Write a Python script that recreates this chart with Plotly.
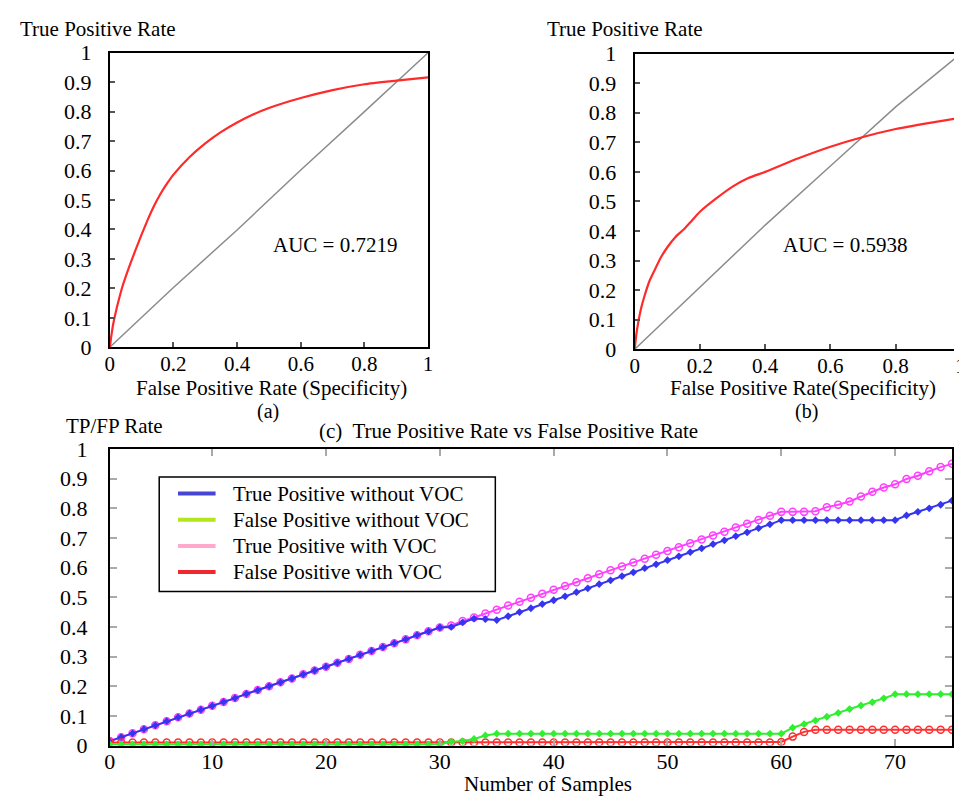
import plotly.graph_objects as go

# ---------------- data ----------------
# (a) ROC curve
fpr_a = [0, 0.005, 0.01, 0.02, 0.03, 0.04, 0.06, 0.08, 0.10, 0.12, 0.14, 0.16, 0.18, 0.2,
         0.25, 0.3, 0.35, 0.4, 0.45, 0.5, 0.6, 0.7, 0.8, 0.9, 1.0]
tpr_a = [0, 0.04, 0.075, 0.125, 0.168, 0.207, 0.27, 0.328, 0.383, 0.435, 0.482, 0.522, 0.556,
         0.586, 0.645, 0.692, 0.731, 0.763, 0.79, 0.812, 0.846, 0.873, 0.893, 0.905, 0.916]
diag_a_x = [0, 0.2, 0.4, 0.6, 0.8, 1.0]
diag_a_y = [0, 0.203, 0.398, 0.602, 0.800, 1.0]
auc_a = "AUC = 0.7219"

# (b) ROC curve
fpr_b = [0, 0.005, 0.01, 0.02, 0.03, 0.045, 0.06, 0.08, 0.10, 0.125, 0.15, 0.175, 0.2, 0.25,
         0.3, 0.35, 0.4, 0.5, 0.6, 0.7, 0.8, 0.9, 1.0]
tpr_b = [0, 0.05, 0.085, 0.14, 0.18, 0.23, 0.265, 0.31, 0.345, 0.38, 0.405, 0.435, 0.465, 0.51,
         0.55, 0.58, 0.60, 0.645, 0.685, 0.718, 0.745, 0.765, 0.783]
diag_b_x = [0, 0.2, 0.4, 0.6, 0.8, 1.0]
diag_b_y = [0, 0.21, 0.42, 0.62, 0.82, 1.0]
auc_b = "AUC = 0.5938"

roc_ticks = [0, 0.1, 0.2, 0.3, 0.4, 0.5, 0.6, 0.7, 0.8, 0.9, 1.0]
roc_tick_text = ["0", "0.1", "0.2", "0.3", "0.4", "0.5", "0.6", "0.7", "0.8", "0.9", "1"]
fpr_ticks = [0, 0.2, 0.4, 0.6, 0.8, 1.0]
fpr_tick_text = ["0", "0.2", "0.4", "0.6", "0.8", "1"]

# (c) rates vs number of samples
samples = list(range(1, 76))
tp_without = [0.015, 0.028, 0.041, 0.055, 0.068, 0.082, 0.095, 0.108, 0.121, 0.134,
              0.147, 0.160, 0.174, 0.187, 0.200, 0.213, 0.226, 0.240, 0.253, 0.266,
              0.279, 0.292, 0.306, 0.319, 0.332, 0.345, 0.358, 0.372, 0.385, 0.398,
              0.400, 0.415, 0.428, 0.426, 0.423, 0.436, 0.450, 0.463, 0.477, 0.490,
              0.503, 0.517, 0.530, 0.544, 0.557, 0.571, 0.584, 0.598, 0.611, 0.625,
              0.638, 0.652, 0.665, 0.679, 0.692, 0.706, 0.719, 0.733, 0.746, 0.760,
              0.760, 0.760, 0.760, 0.760, 0.760, 0.760, 0.760, 0.760, 0.760, 0.760,
              0.776, 0.788, 0.800, 0.812, 0.826]
fp_without = [0.004, 0.004, 0.004, 0.004, 0.004, 0.004, 0.004, 0.004, 0.004, 0.004,
              0.004, 0.004, 0.004, 0.004, 0.004, 0.004, 0.004, 0.004, 0.004, 0.004,
              0.004, 0.004, 0.004, 0.004, 0.004, 0.004, 0.004, 0.004, 0.004, 0.004,
              0.013, 0.015, 0.022, 0.034, 0.040, 0.040, 0.040, 0.040, 0.040, 0.040,
              0.040, 0.040, 0.040, 0.040, 0.040, 0.040, 0.040, 0.040, 0.040, 0.040,
              0.040, 0.040, 0.040, 0.040, 0.040, 0.040, 0.040, 0.040, 0.040, 0.040,
              0.060, 0.072, 0.084, 0.097, 0.110, 0.123, 0.135, 0.146, 0.159, 0.173,
              0.173, 0.173, 0.173, 0.173, 0.173]
tp_with = [0.015, 0.028, 0.041, 0.055, 0.068, 0.082, 0.095, 0.108, 0.121, 0.134,
           0.147, 0.160, 0.174, 0.187, 0.200, 0.213, 0.226, 0.240, 0.253, 0.266,
           0.279, 0.292, 0.306, 0.319, 0.332, 0.345, 0.358, 0.372, 0.385, 0.398,
           0.405, 0.420, 0.432, 0.445, 0.458, 0.472, 0.485, 0.498, 0.512, 0.525,
           0.538, 0.551, 0.564, 0.578, 0.591, 0.604, 0.617, 0.630, 0.643, 0.656,
           0.669, 0.682, 0.695, 0.708, 0.721, 0.735, 0.748, 0.761, 0.775, 0.788,
           0.788, 0.788, 0.790, 0.804, 0.812, 0.823, 0.840, 0.856, 0.870, 0.881,
           0.899, 0.910, 0.925, 0.939, 0.950]
fp_with = [0.010, 0.010, 0.010, 0.010, 0.010, 0.010, 0.010, 0.010, 0.010, 0.010,
           0.010, 0.010, 0.010, 0.010, 0.010, 0.010, 0.010, 0.010, 0.010, 0.010,
           0.010, 0.010, 0.010, 0.010, 0.010, 0.010, 0.010, 0.010, 0.010, 0.010,
           0.010, 0.010, 0.010, 0.010, 0.010, 0.010, 0.010, 0.010, 0.010, 0.010,
           0.010, 0.010, 0.010, 0.010, 0.010, 0.010, 0.010, 0.010, 0.010, 0.010,
           0.010, 0.010, 0.010, 0.010, 0.010, 0.010, 0.010, 0.010, 0.010, 0.012,
           0.030, 0.046, 0.053, 0.053, 0.053, 0.053, 0.053, 0.053, 0.053, 0.053,
           0.053, 0.053, 0.053, 0.053, 0.053]
sample_ticks = [1, 10, 20, 30, 40, 50, 60, 70]
sample_tick_text = ["0", "10", "20", "30", "40", "50", "60", "70"]
legend_names = ["True Positive without VOC", "False Positive without VOC",
                "True Positive with VOC", "False Positive with VOC"]
legend_colors = ["#4646d2", "#b4e61e", "#ffaacc", "#f0282d"]

# ---------------- layout helpers ----------------
W, H = 959, 806
FONT = "Liberation Serif"


def px(x):
    return x / W


def py(y):
    return 1 - y / H


fig = go.Figure()

# (a)
fig.add_trace(go.Scatter(x=diag_a_x, y=diag_a_y, mode="lines", line=dict(color="#8c8c8c", width=1.5),
                         xaxis="x", yaxis="y", showlegend=False))
fig.add_trace(go.Scatter(x=fpr_a, y=tpr_a, mode="lines",
                         line=dict(color="#ff2a2a", width=2.2, shape="spline", smoothing=0.5),
                         xaxis="x", yaxis="y", showlegend=False))
# (b)
fig.add_trace(go.Scatter(x=diag_b_x, y=diag_b_y, mode="lines", line=dict(color="#8c8c8c", width=1.5),
                         xaxis="x2", yaxis="y2", showlegend=False))
fig.add_trace(go.Scatter(x=fpr_b, y=tpr_b, mode="lines",
                         line=dict(color="#ff2a2a", width=2.2, shape="spline", smoothing=0.5),
                         xaxis="x2", yaxis="y2", showlegend=False))

# (c)
fig.add_trace(go.Scatter(x=samples, y=tp_with, mode="lines+markers", name=legend_names[2],
                         line=dict(color="#ff40ff", width=2),
                         marker=dict(symbol="circle-open", size=7, color="#ff40ff", line=dict(width=1.5)),
                         xaxis="x3", yaxis="y3", showlegend=False))
fig.add_trace(go.Scatter(x=samples, y=tp_without, mode="lines+markers", name=legend_names[0],
                         line=dict(color="#3535f0", width=2),
                         marker=dict(symbol="diamond", size=6, color="#3535f0"),
                         xaxis="x3", yaxis="y3", showlegend=False))
fig.add_trace(go.Scatter(x=samples, y=fp_with, mode="lines+markers", name=legend_names[3],
                         line=dict(color="#ff3030", width=2),
                         marker=dict(symbol="circle-open", size=7, color="#ff3030", line=dict(width=1.5)),
                         xaxis="x3", yaxis="y3", showlegend=False))
fig.add_trace(go.Scatter(x=samples, y=fp_without, mode="lines+markers", name=legend_names[1],
                         line=dict(color="#30ee30", width=2),
                         marker=dict(symbol="diamond", size=6, color="#30ee30"),
                         xaxis="x3", yaxis="y3", showlegend=False))

axis_common = dict(showgrid=False, zeroline=False, showline=True, linecolor="black", linewidth=2,
                   ticks="inside", ticklen=5, tickwidth=2, tickcolor="#555555",
                   tickfont=dict(family=FONT, size=22, color="black"))
top_x = {**axis_common, "tickfont": dict(family=FONT, size=21, color="black")}
grey_ticks = {**axis_common, "tickcolor": "#aaaaaa", "ticklen": 7}

fig.update_layout(
    width=W, height=H, margin=dict(l=0, r=0, t=0, b=0),
    paper_bgcolor="white", plot_bgcolor="white",
    font=dict(family=FONT, size=21, color="black"),
    showlegend=False,
    xaxis=dict(domain=[px(105), px(427)], range=[0, 1], anchor="y", mirror=True,
               tickvals=fpr_ticks, ticktext=fpr_tick_text, ticklabelstandoff=-3, **top_x),
    yaxis=dict(domain=[py(346), py(42)], range=[0, 1], anchor="x", mirror=True,
               tickvals=roc_ticks, ticktext=roc_tick_text, ticklabelstandoff=12, **axis_common),
    xaxis2=dict(domain=[px(636), 1.0], range=[0, (959 - 636) / 330], anchor="y2", mirror=True,
                tickvals=fpr_ticks, ticktext=fpr_tick_text, ticklabelstandoff=-3, **top_x),
    yaxis2=dict(domain=[py(348), py(43)], range=[0, 1], anchor="x2", mirror=False,
                tickvals=roc_ticks, ticktext=roc_tick_text, ticklabelstandoff=12, **axis_common),
    xaxis3=dict(domain=[px(105), px(957)], range=[1, 75], anchor="y3", mirror="ticks",
                tickvals=sample_ticks, ticktext=sample_tick_text, ticklabelstandoff=-5, **grey_ticks),
    yaxis3=dict(domain=[py(757), py(451)], range=[0, 1], anchor="x3", mirror="ticks",
                tickvals=roc_ticks, ticktext=roc_tick_text, ticklabelstandoff=16, **grey_ticks),
)

# legend (box, sample lines, labels)
fig.add_shape(type="rect", xref="paper", yref="paper", x0=px(155), x1=px(495), y0=py(598), y1=py(480),
              line=dict(color="black", width=1.5), fillcolor="rgba(0,0,0,0)")
legend_rows = [497, 524, 551, 578]
ann = []
for name, col, ry in zip(legend_names, legend_colors, legend_rows):
    fig.add_shape(type="line", xref="paper", yref="paper", x0=px(174), x1=px(212), y0=py(ry), y1=py(ry),
                  line=dict(color=col, width=4))
    ann.append(dict(x=px(228), y=py(ry), xref="paper", yref="paper", text=name, showarrow=False,
                    xanchor="left", yanchor="middle", font=dict(family=FONT, size=21, color="black")))


def text(x, y, s, size=21, xanchor="center"):
    ann.append(dict(x=px(x), y=py(y), xref="paper", yref="paper", text=s, showarrow=False,
                    xanchor=xanchor, yanchor="middle", font=dict(family=FONT, size=size, color="black")))


text(12, 18, "True Positive Rate", xanchor="left")
text(545, 18, "True Positive Rate", xanchor="left")
text(269, 388, "False Positive Rate (Specificity)")
text(806, 388, "False Positive Rate(Specificity)")
text(265, 412, "(a)", size=20)
text(810, 412, "(b)", size=20)
text(508, 432, "(c)  True Positive Rate vs False Positive Rate")
text(59, 427, "TP/FP Rate", xanchor="left")
text(548, 797, "Number of Samples")
text(333, 240, auc_a)
text(849, 240, auc_b)
# partially visible tick label "1" of panel (b) at the cut-off right edge
text(966, 365, "1", size=21)
fig.update_layout(annotations=ann)

fig.write_html("out.html",
               post_script="document.body.style.margin='0px';document.body.style.overflow='hidden';")
